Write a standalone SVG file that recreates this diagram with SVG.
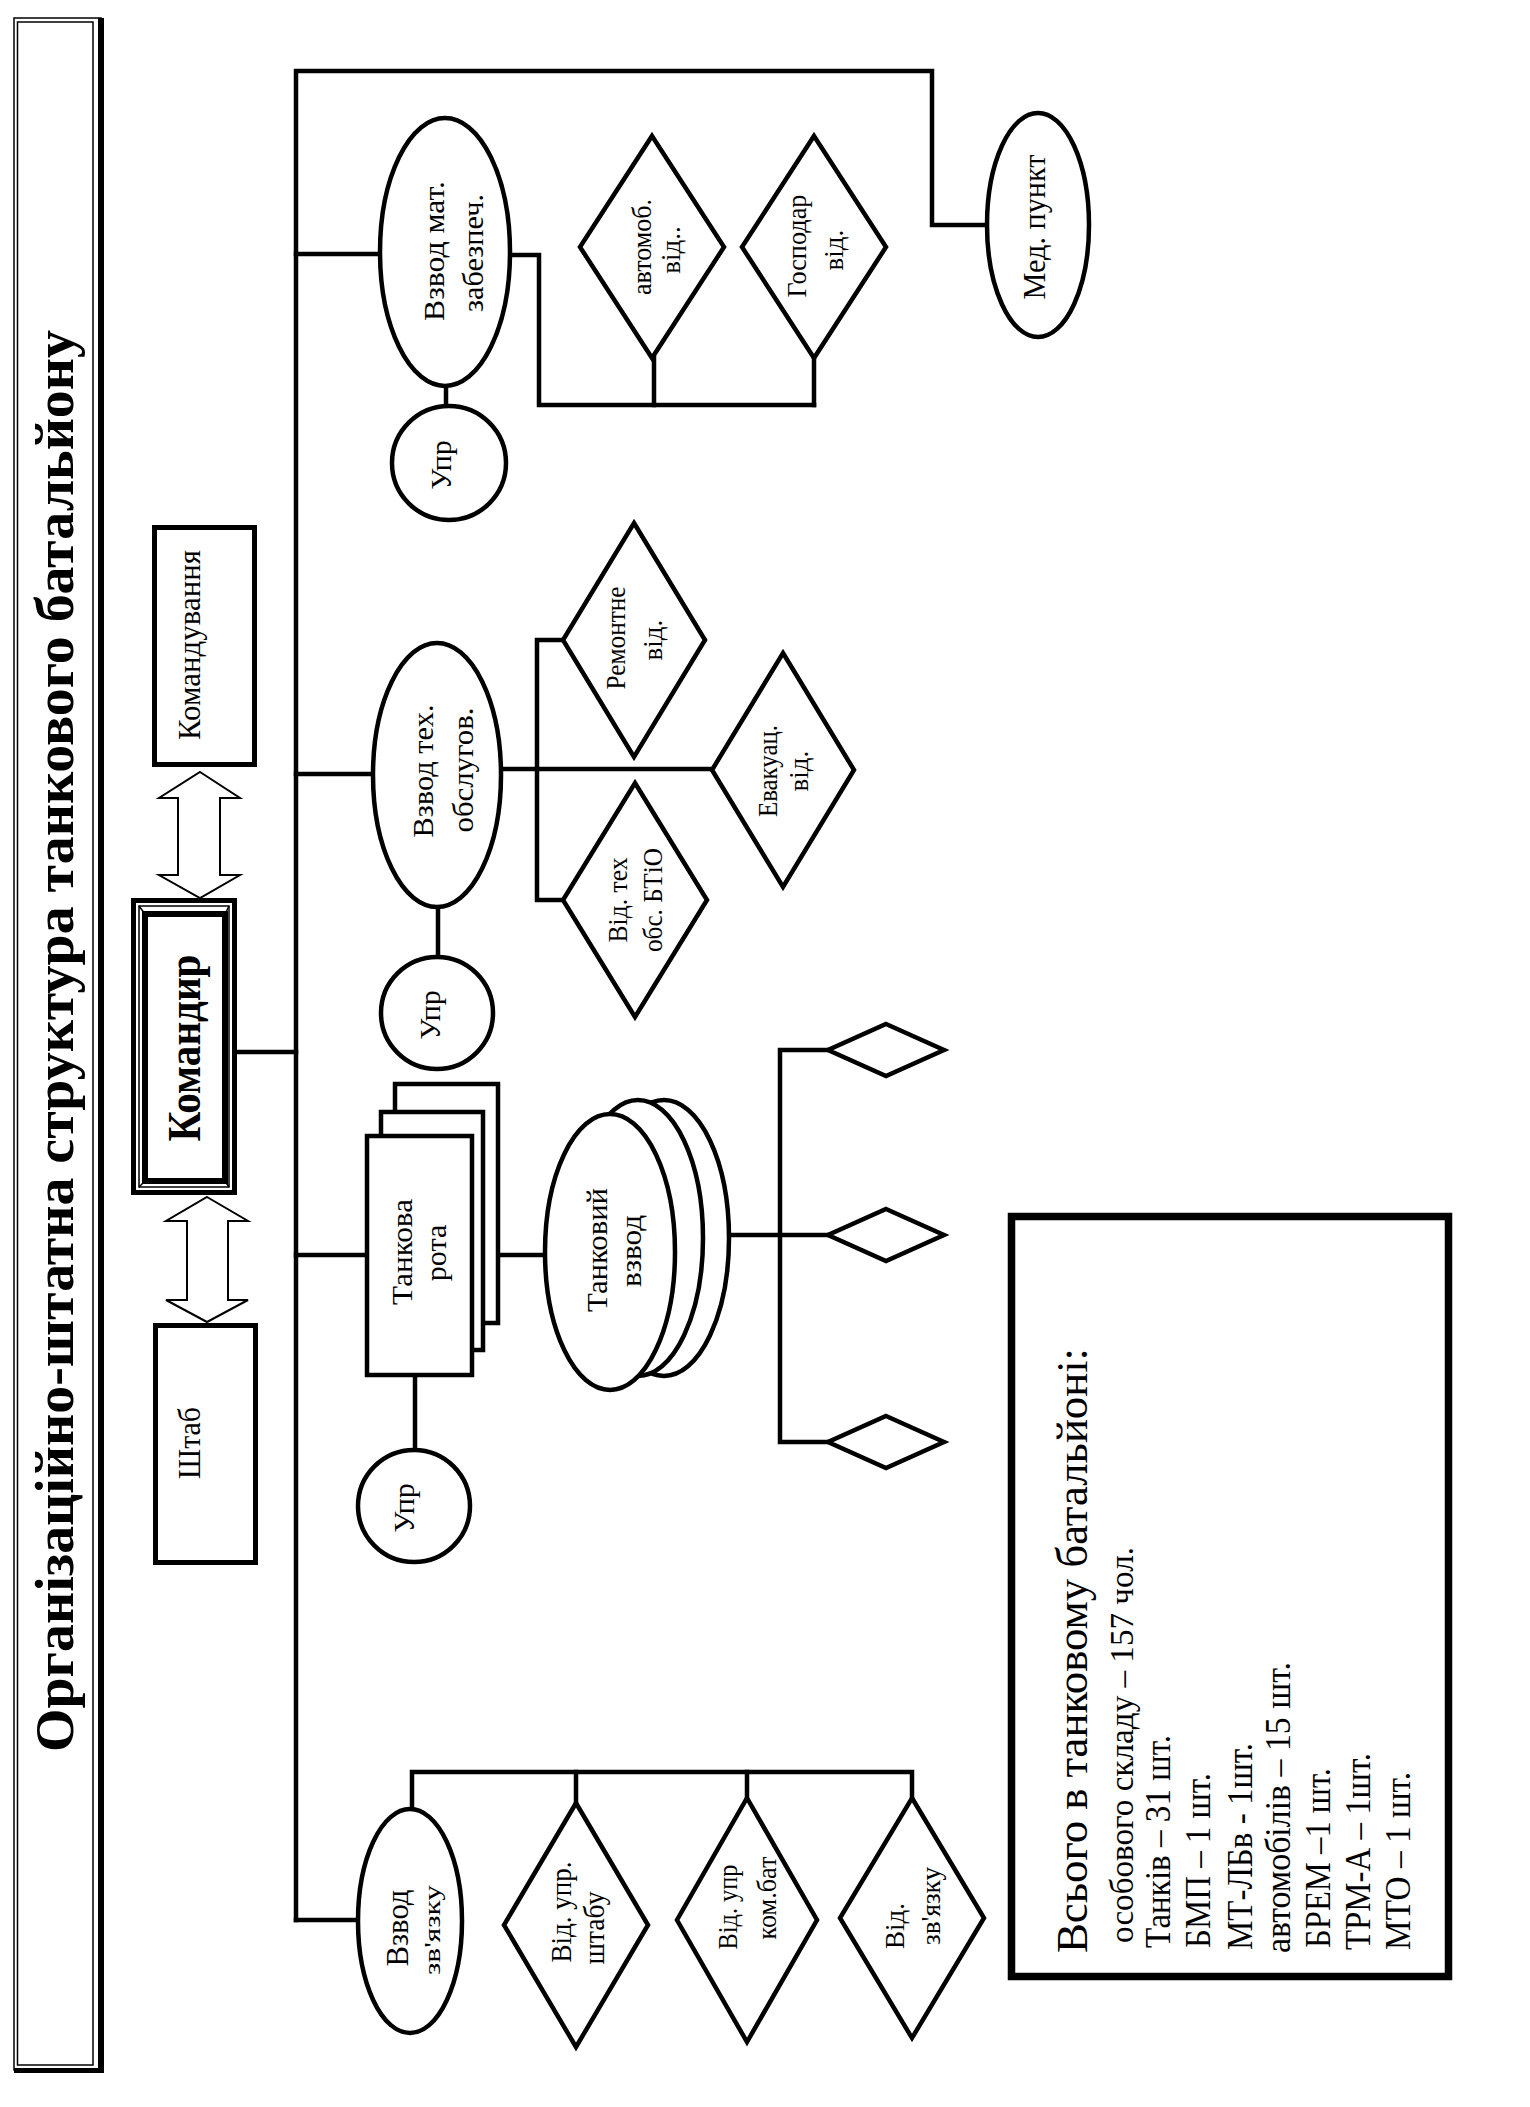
<svg xmlns="http://www.w3.org/2000/svg" width="1530" height="2107" viewBox="0 0 1530 2107">
<style>
text{font-family:"Liberation Serif","Times New Roman",serif;fill:#000;text-anchor:middle}
.s{text-anchor:start}
.b{font-weight:bold}
.ln{fill:none;stroke:#000;stroke-width:4.5;stroke-linecap:square}
.sh{fill:#fff;stroke:#000;stroke-width:4.5}
.th{fill:none;stroke:#000;stroke-width:1.5}
.ar{fill:#fff;stroke:#000;stroke-width:2}
</style>
<rect width="1530" height="2107" fill="#fff"/>

<g id="title">
<rect x="14" y="18" width="87" height="2052" class="th"/>
<rect x="17.5" y="22" width="75.5" height="2043" class="th"/>
<line x1="101" y1="18" x2="101" y2="2073" stroke="#000" stroke-width="6"/>
<line x1="14" y1="2070.5" x2="104" y2="2070.5" stroke="#000" stroke-width="5"/>
<text class="b" x="73" y="1041" font-size="55" transform="rotate(-90 73 1041)" textLength="1422" lengthAdjust="spacingAndGlyphs">Організаційно-штатна структура танкового батальйону</text>
</g>

<g id="connectors">
<polyline class="ln" points="296,1920 296,71 932,71 932,225 987,225"/>
<line class="ln" x1="296" y1="254" x2="380" y2="254"/>
<polyline class="ln" points="510,255 539,255 539,405 814,405"/>
<line class="ln" x1="654" y1="358" x2="654" y2="405"/>
<line class="ln" x1="814" y1="358" x2="814" y2="405"/>
<line class="ln" x1="446" y1="386" x2="446" y2="406"/>
<line class="ln" x1="237" y1="1052" x2="296" y2="1052"/>
<line class="ln" x1="296" y1="774" x2="373" y2="774"/>
<line class="ln" x1="438" y1="907" x2="438" y2="957"/>
<line class="ln" x1="501" y1="769" x2="712" y2="769"/>
<polyline class="ln" points="563,640 537,640 537,900 563,900"/>
<line class="ln" x1="296" y1="1255" x2="367" y2="1255"/>
<line class="ln" x1="472" y1="1255" x2="545" y2="1255"/>
<line class="ln" x1="415" y1="1375" x2="415" y2="1450"/>
<line class="ln" x1="729" y1="1235" x2="828" y2="1235"/>
<polyline class="ln" points="828,1050 780,1050 780,1442 828,1442"/>
<line class="ln" x1="296" y1="1920" x2="358" y2="1920"/>
<polyline class="ln" points="412,1809 412,1772 912,1772 912,1798"/>
<line class="ln" x1="576" y1="1772" x2="576" y2="1803"/>
<line class="ln" x1="747" y1="1772" x2="747" y2="1798"/>
<path class="ar" d="M200,772 L240,798 L220,798 L220,875 L240,875 L200,898 L159,875 L178,875 L178,798 L159,798 Z"/>
<path class="ar" d="M207,1197 L248,1221 L228,1221 L228,1300 L248,1300 L207,1322 L166,1300 L187,1300 L187,1221 L166,1221 Z"/>
</g>

<g id="komanduvannia">
<rect x="154.5" y="527.5" width="100" height="237" fill="#fff" stroke="#000" stroke-width="5"/>
<text x="200" y="645" font-size="32" transform="rotate(-90 200 645)" textLength="190" lengthAdjust="spacingAndGlyphs">Командування</text>
</g>

<g id="komandyr">
<rect x="133.5" y="900.5" width="101" height="292" fill="#fff" stroke="#000" stroke-width="5"/>
<rect x="139" y="906" width="90" height="281" class="th"/>
<rect x="145" y="914" width="80" height="267" fill="#fff" stroke="#000" stroke-width="6"/>
<path class="th" d="M139,906 L145,914 M229,906 L225,914 M139,1187 L145,1181 M229,1187 L225,1181"/>
<text class="b" x="200" y="1048" font-size="46" transform="rotate(-90 200 1048)" textLength="187" lengthAdjust="spacingAndGlyphs">Командир</text>
</g>

<g id="shtab">
<rect x="155.5" y="1325.5" width="100" height="237" fill="#fff" stroke="#000" stroke-width="5"/>
<text x="200" y="1443" font-size="32" transform="rotate(-90 200 1443)" textLength="72" lengthAdjust="spacingAndGlyphs">Штаб</text>
</g>

<g id="vzvod-mat">
<ellipse class="sh" cx="445" cy="252" rx="65" ry="134"/>
<text x="444" y="251" font-size="30" transform="rotate(-90 444 251)" textLength="140" lengthAdjust="spacingAndGlyphs">Взвод мат.</text>
<text x="483" y="253" font-size="30" transform="rotate(-90 483 253)" textLength="118" lengthAdjust="spacingAndGlyphs">забезпеч.</text>
</g>

<g id="upr-mat">
<circle class="sh" cx="449" cy="463" r="57"/>
<text x="451" y="465" font-size="30" transform="rotate(-90 451 465)">Упр</text>
</g>

<g id="avtomob">
<polygon class="sh" points="652,136 724,247 652,358 580,247"/>
<text x="651" y="247" font-size="27" transform="rotate(-90 651 247)" textLength="96" lengthAdjust="spacingAndGlyphs">автомоб.</text>
<text x="680" y="250" font-size="27" transform="rotate(-90 680 250)">від..</text>
</g>

<g id="gospodar">
<polygon class="sh" points="814,136 886,247 814,358 742,247"/>
<text x="806" y="246" font-size="27" transform="rotate(-90 806 246)" textLength="103" lengthAdjust="spacingAndGlyphs">Господар</text>
<text x="843" y="250" font-size="27" transform="rotate(-90 843 250)">від.</text>
</g>

<g id="med-punkt">
<ellipse class="sh" cx="1038" cy="225" rx="51" ry="112"/>
<text x="1045" y="227" font-size="32" transform="rotate(-90 1045 227)" textLength="145" lengthAdjust="spacingAndGlyphs">Мед. пункт</text>
</g>

<g id="vzvod-teh">
<ellipse class="sh" cx="437" cy="775" rx="64" ry="132"/>
<text x="433" y="771" font-size="30" transform="rotate(-90 433 771)" textLength="133" lengthAdjust="spacingAndGlyphs">Взвод тех.</text>
<text x="473" y="770" font-size="30" transform="rotate(-90 473 770)" textLength="125" lengthAdjust="spacingAndGlyphs">обслугов.</text>
</g>

<g id="upr-teh">
<circle class="sh" cx="437" cy="1013" r="56"/>
<text x="440" y="1015" font-size="30" transform="rotate(-90 440 1015)">Упр</text>
</g>

<g id="remontne">
<polygon class="sh" points="634,523 705,640 634,757 563,640"/>
<text x="625" y="638" font-size="27" transform="rotate(-90 625 638)" textLength="103" lengthAdjust="spacingAndGlyphs">Ремонтне</text>
<text x="662" y="640" font-size="27" transform="rotate(-90 662 640)">від.</text>
</g>

<g id="btio">
<polygon class="sh" points="635,783 707,900 635,1017 563,900"/>
<text x="627" y="900" font-size="27" transform="rotate(-90 627 900)" textLength="85" lengthAdjust="spacingAndGlyphs">Від. тех</text>
<text x="662" y="900" font-size="27" transform="rotate(-90 662 900)" textLength="104" lengthAdjust="spacingAndGlyphs">обс. БТіО</text>
</g>

<g id="evakuats">
<polygon class="sh" points="783,653 854,770 783,887 712,770"/>
<text x="777" y="771" font-size="27" transform="rotate(-90 777 771)" textLength="92" lengthAdjust="spacingAndGlyphs">Евакуац.</text>
<text x="808" y="771" font-size="27" transform="rotate(-90 808 771)">від.</text>
</g>

<g id="tank-rota">
<rect class="sh" x="395" y="1084" width="103" height="239"/>
<rect class="sh" x="381" y="1112" width="102" height="238"/>
<rect class="sh" x="367" y="1136" width="105" height="239"/>
<text x="412" y="1252" font-size="30" transform="rotate(-90 412 1252)" textLength="106" lengthAdjust="spacingAndGlyphs">Танкова</text>
<text x="446" y="1253" font-size="30" transform="rotate(-90 446 1253)">рота</text>
</g>

<g id="upr-rota">
<circle class="sh" cx="414" cy="1506" r="56"/>
<text x="414" y="1508" font-size="30" transform="rotate(-90 414 1508)">Упр</text>
</g>

<g id="tank-vzvod">
<ellipse class="sh" cx="664" cy="1238" rx="65" ry="138"/>
<ellipse class="sh" cx="638" cy="1238" rx="65" ry="138"/>
<ellipse class="sh" cx="610" cy="1252" rx="65" ry="138"/>
<text x="607" y="1250" font-size="30" transform="rotate(-90 607 1250)" textLength="124" lengthAdjust="spacingAndGlyphs">Танковий</text>
<text x="641" y="1251" font-size="30" transform="rotate(-90 641 1251)" textLength="72" lengthAdjust="spacingAndGlyphs">взвод</text>
</g>

<g id="tank-d1"><polygon class="sh" points="886,1024 944,1050 886,1076 828,1050"/></g>
<g id="tank-d2"><polygon class="sh" points="886,1209 944,1235 886,1261 828,1235"/></g>
<g id="tank-d3"><polygon class="sh" points="886,1416 944,1442 886,1468 828,1442"/></g>

<g id="vzvod-zv">
<ellipse class="sh" cx="410" cy="1921" rx="52" ry="112"/>
<text x="408" y="1928" font-size="31" transform="rotate(-90 408 1928)" textLength="77" lengthAdjust="spacingAndGlyphs">Взвод</text>
<text x="440" y="1930" font-size="24" transform="rotate(-90 440 1930)" textLength="90" lengthAdjust="spacingAndGlyphs">зв'язку</text>
</g>

<g id="vid-upr-shtabu">
<polygon class="sh" points="576,1803 648,1925 576,2047 504,1925"/>
<text x="571" y="1912" font-size="29" transform="rotate(-90 571 1912)" textLength="101" lengthAdjust="spacingAndGlyphs">Від. упр.</text>
<text x="604" y="1928" font-size="29" transform="rotate(-90 604 1928)" textLength="73" lengthAdjust="spacingAndGlyphs">штабу</text>
</g>

<g id="vid-upr-kombat">
<polygon class="sh" points="747,1798 817,1920 747,2042 677,1920"/>
<text x="737" y="1907" font-size="27" transform="rotate(-90 737 1907)" textLength="85" lengthAdjust="spacingAndGlyphs">Від. упр</text>
<text x="776" y="1898" font-size="27" transform="rotate(-90 776 1898)" textLength="83" lengthAdjust="spacingAndGlyphs">ком.бат</text>
</g>

<g id="vid-zv">
<polygon class="sh" points="912,1798 984,1918 912,2038 840,1918"/>
<text x="904" y="1926" font-size="27" transform="rotate(-90 904 1926)">Від.</text>
<text x="940" y="1906" font-size="27" transform="rotate(-90 940 1906)" textLength="78" lengthAdjust="spacingAndGlyphs">зв'язку</text>
</g>

<g id="summary">
<rect x="1011.5" y="1216.5" width="437" height="760" fill="#fff" stroke="#000" stroke-width="7.5"/>
<text class="s" x="1087" y="1953" font-size="44" transform="rotate(-90 1087 1953)" textLength="605" lengthAdjust="spacingAndGlyphs">Всього в танковому батальйоні:</text>
<text class="s" x="1133" y="1943" font-size="33" transform="rotate(-90 1133 1943)" textLength="396" lengthAdjust="spacingAndGlyphs">особового складу – 157 чол.</text>
<text class="s" x="1170" y="1948" font-size="36" transform="rotate(-90 1170 1948)" textLength="213" lengthAdjust="spacingAndGlyphs">Танків – 31 шт.</text>
<text class="s" x="1210" y="1948" font-size="36" transform="rotate(-90 1210 1948)" textLength="175" lengthAdjust="spacingAndGlyphs">БМП – 1 шт.</text>
<text class="s" x="1252" y="1950" font-size="36" transform="rotate(-90 1252 1950)" textLength="207" lengthAdjust="spacingAndGlyphs">МТ-ЛБв - 1шт.</text>
<text class="s" x="1290" y="1953" font-size="36" transform="rotate(-90 1290 1953)" textLength="291" lengthAdjust="spacingAndGlyphs">автомобілів – 15 шт.</text>
<text class="s" x="1330" y="1948" font-size="36" transform="rotate(-90 1330 1948)" textLength="180" lengthAdjust="spacingAndGlyphs">БРЕМ –1 шт.</text>
<text class="s" x="1370" y="1950" font-size="36" transform="rotate(-90 1370 1950)" textLength="197" lengthAdjust="spacingAndGlyphs">ТРМ-А – 1шт.</text>
<text class="s" x="1410" y="1950" font-size="36" transform="rotate(-90 1410 1950)" textLength="178" lengthAdjust="spacingAndGlyphs">МТО – 1 шт.</text>
</g>
</svg>
